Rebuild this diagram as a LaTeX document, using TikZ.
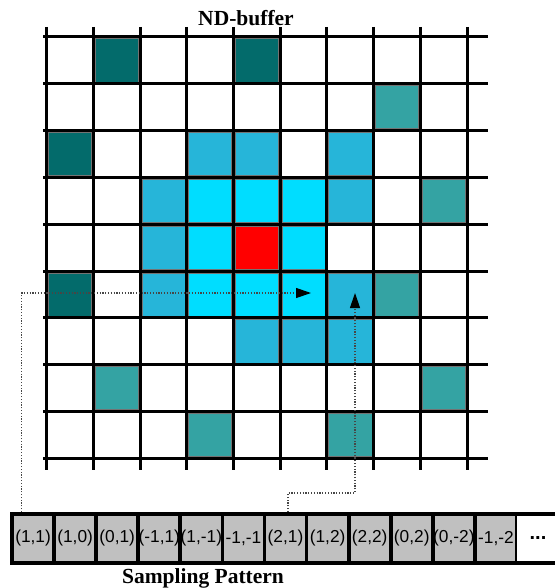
\documentclass[tikz,border=0pt]{standalone}
\usepackage{fontspec}
\setmainfont{Liberation Serif}
\newfontfamily\arialf{Liberation Sans}
\usetikzlibrary{arrows.meta}
\definecolor{darkteal}{RGB}{3,107,107}
\definecolor{midteal}{RGB}{52,163,163}
\definecolor{skyblue}{RGB}{38,181,217}
\definecolor{brightcyan}{RGB}{0,221,255}
\definecolor{patgray}{RGB}{192,192,192}
\definecolor{dotgray}{RGB}{70,70,70}
\begin{document}
\begin{tikzpicture}[x=1pt,y=-1pt,
  gridline/.style={line width=3pt, black},
  cellfill/.style={draw=black!55, line width=0.6pt},
  patcell/.style={draw=black, line width=3.8pt, fill=patgray, minimum width=42.08pt,
    minimum height=49pt, inner sep=0pt, outer sep=0pt, anchor=north west,
    font=\arialf\fontsize{17.3}{17.3}\selectfont},
  conn/.style={dotgray, line width=1.2pt, dash pattern=on 1.2pt off 1.6pt,
    -{Triangle[length=15pt,width=10pt,black]}},
  titletext/.style={font=\bfseries\fontsize{21.5}{21.5}\selectfont, anchor=base}]
\useasboundingbox (0,0) rectangle (554,588);
% coloured cells of the ND-buffer
\foreach \c/\r/\col in {1/0/darkteal, 4/0/darkteal, 7/1/midteal, 0/2/darkteal,
  3/2/skyblue, 4/2/skyblue, 6/2/skyblue, 2/3/skyblue, 3/3/brightcyan,
  4/3/brightcyan, 5/3/brightcyan, 6/3/skyblue, 8/3/midteal, 2/4/skyblue,
  3/4/brightcyan, 4/4/red, 5/4/brightcyan, 0/5/darkteal, 2/5/skyblue,
  3/5/brightcyan, 4/5/brightcyan, 5/5/brightcyan, 6/5/skyblue, 7/5/midteal,
  4/6/skyblue, 5/6/skyblue, 6/6/skyblue, 1/7/midteal, 8/7/midteal,
  3/8/midteal, 6/8/midteal}
  \filldraw[cellfill, fill=\col] (46.7+46.7*\c+1.8, 37+46.8*\r+1.8) rectangle ++(43.1, 43.2);
% grid lines
\foreach \i in {0,...,9}
  \draw[gridline] (46.7+46.7*\i, 27) -- (46.7+46.7*\i, 470);
\foreach \j in {0,...,9}
  \draw[gridline] (43, 37+46.8*\j) -- (488, 37+46.8*\j);
% title
\node[titletext] (nd) at (246, 26) {ND-buffer};
% sampling pattern bar
\foreach \t [count=\k from 0] in {{(1,1)},{(1,0)},{(0,1)},{(-1,1)},{(1,-1)},{-1,-1},
  {(2,1)},{(1,2)},{(2,2)},{(0,2)},{(0,-2)},{-1,-2}}
  \node[patcell] (p\k) at (12+42.08*\k, 514) {\t};
\node[patcell, fill=white, draw=none, font=\arialf\bfseries\fontsize{20}{20}\selectfont] (p12) at (12+42.08*12, 514) {...};
\draw[line width=3.8pt] (p12.north west) -- (558,514);
\draw[line width=3.8pt] (p12.south west) -- (558,563);
\node[titletext] (sp) at (203, 583) {Sampling Pattern};
% connectors
\coordinate (s1) at (21.7, 512);
\coordinate (t1) at (311, 293);
\coordinate (s2) at (288, 512);
\coordinate (b2) at (288, 493);
\coordinate (t2) at (355, 293);
\draw[conn] (s1) |- (t1);
\draw[conn] (s2) -- (b2) -| (t2);
\end{tikzpicture}
\end{document}
